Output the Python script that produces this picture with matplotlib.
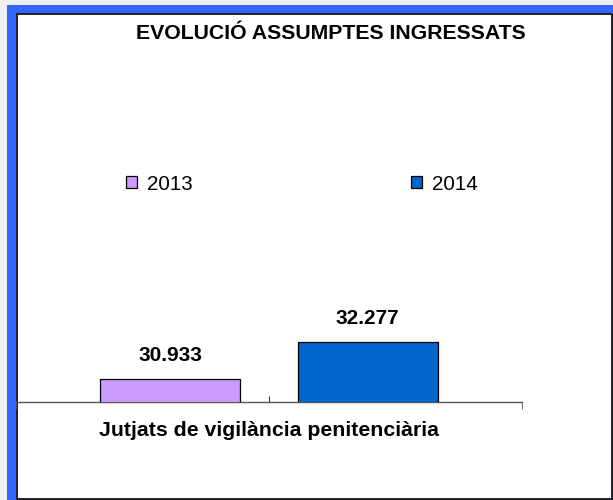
import matplotlib.pyplot as plt
from matplotlib.patches import Rectangle

# dades
categoria = ["Jutjats de vigilància penitenciària"]
anys = ["2013", "2014"]
valors = [30933, 32277]
etiquetes = ["30.933", "32.277"]
colors = ["#CC99FF", "#0066CC"]

plt.rcParams['font.family'] = ['Liberation Sans', 'DejaVu Sans']

fig = plt.figure(figsize=(6.13, 5), dpi=100)
fig.patch.set_facecolor("#eef0f4")

# marc blau i panell blanc
W, H = 613.0, 500.0
fig.add_artist(Rectangle((7 / W, 0), 1 - 7 / W, 1 - 5 / H, transform=fig.transFigure,
                         facecolor="#3366FF", edgecolor="none", zorder=-2))
fig.add_artist(Rectangle((16.5 / W, 1.5 / H), (611.5 - 16.5) / W, (486 - 1.5) / H,
                         transform=fig.transFigure,
                         facecolor="white", edgecolor="#222222", linewidth=1.4, zorder=-1))

ax = fig.add_axes([16 / W, 98 / H, (522 - 16) / W, 301 / H])
ax.patch.set_alpha(0)

offsets = [-0.195, 0.195]
amplada = 0.277
for i in range(len(anys)):
    b = ax.bar(offsets[i], valors[i], width=amplada, color=colors[i], edgecolor="black",
               linewidth=0.9, label=anys[i], zorder=3)
    ax.annotate(etiquetes[i], (offsets[i], valors[i]), xytext=(0, 13), textcoords="offset points",
                ha="center", va="baseline", fontsize=15, fontweight="bold")

ax.set_xlim(-0.5, 0.5)
ax.set_ylim(30100, 41000)

for s in ["top", "right", "left"]:
    ax.spines[s].set_visible(False)
ax.spines["bottom"].set_color("#555555")
ax.spines["bottom"].set_linewidth(1.0)
ax.yaxis.set_visible(False)

ax.set_xticks([0])
ax.set_xticklabels(categoria, fontsize=15.3, fontweight="bold")
ax.tick_params(axis="x", which="major", direction="in", length=4, color="#333333", pad=13.5)
ax.set_xticks([-0.5, 0.5], minor=True)
ax.tick_params(axis="x", which="minor", direction="out", length=5, color="#555555")

fig.text(331 / W, 1 - 33 / H, "EVOLUCIÓ ASSUMPTES INGRESSATS", ha="center", va="center",
         fontsize=15.3, fontweight="bold")

ax.legend(loc="center", bbox_to_anchor=((302 - 16) / 506, (402 - 184) / 301), ncol=2,
          frameon=False, fontsize=14.8, handlelength=0.55, handleheight=0.55,
          handletextpad=0.5, columnspacing=10.6)

fig.savefig("out.png", dpi=100, facecolor=fig.get_facecolor())
